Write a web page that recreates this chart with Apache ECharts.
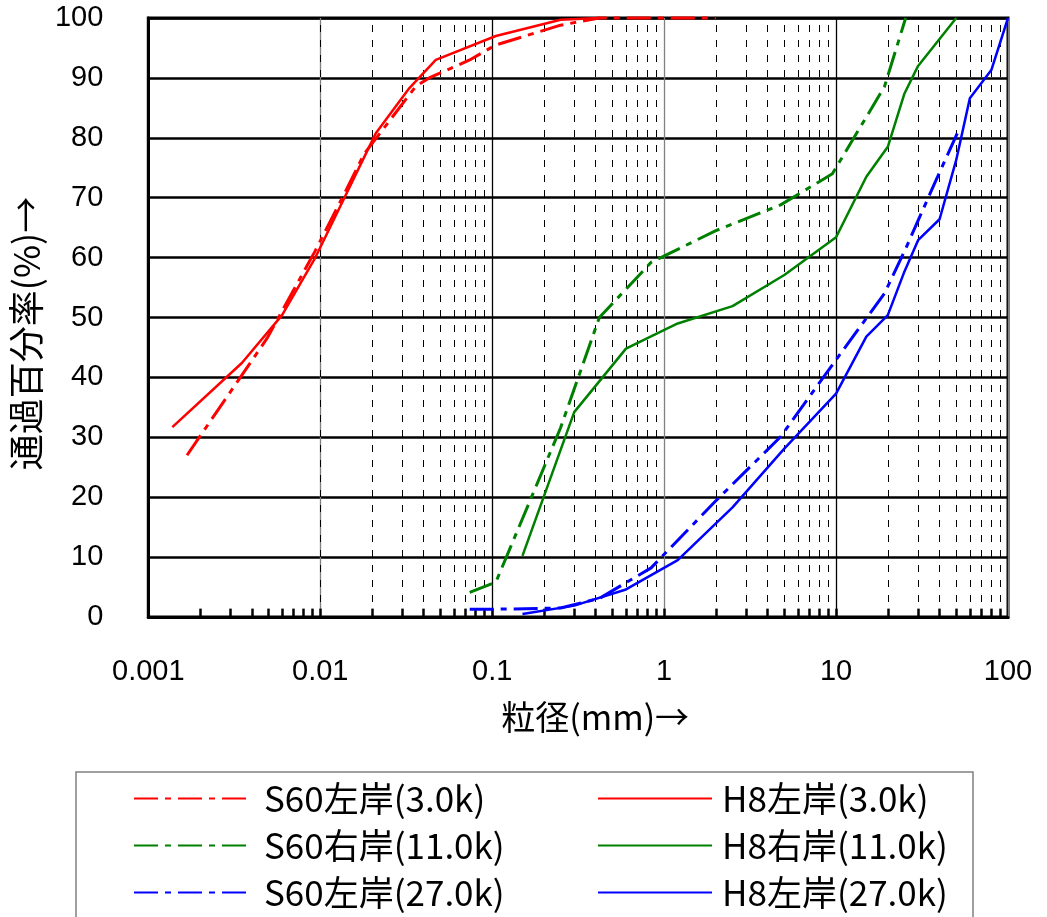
<!DOCTYPE html>
<html><head><meta charset="utf-8">
<script src="https://cdn.jsdelivr.net/npm/echarts@6/dist/echarts.min.js"></script>
<style>html,body{margin:0;padding:0;background:#fff}#c{width:1047px;height:917px}</style>
</head><body><div id="c"></div>
<script>
// ---- data (grain size mm, passing %) ----
const s60L3x = [0.00168, 0.0049, 0.0093, 0.0135, 0.018, 0.036, 0.043, 0.074, 0.105, 0.25, 0.42, 0.84, 2.0];
const s60L3y = [27.0, 46.5, 61.0, 70.1, 77.3, 88.6, 90.0, 93.0, 95.5, 98.8, 100, 100, 100];
const h8L3x = [0.00138, 0.0035, 0.006, 0.0094, 0.021, 0.033, 0.047, 0.105, 0.25, 0.42];
const h8L3y = [31.7, 42.4, 50.4, 60.1, 80.7, 88.3, 93.0, 97.0, 99.7, 100];
const s60R11x = [0.074, 0.105, 0.25, 0.42, 0.84, 2.0, 4.76, 9.52, 19.1, 25.4];
const s60R11y = [4.1, 5.8, 31.6, 50.0, 59.2, 64.5, 68.8, 74.0, 88.5, 100];
const h8R11x = [0.15, 0.3, 0.6, 1.2, 2.5, 5, 10, 15, 20, 25, 30, 50];
const h8R11y = [10.2, 34.2, 44.8, 49.0, 51.9, 57.1, 63.4, 73.5, 78.5, 87.4, 92.0, 100];
const s60L27x = [0.074, 0.105, 0.25, 0.42, 0.84, 2.0, 4.76, 9.52, 19.1, 25.4, 38.1, 50.8];
const s60L27y = [1.3, 1.3, 1.5, 3.1, 8.2, 19.4, 30.1, 42.1, 54.0, 61.5, 72.9, 80.8];
const h8L27x = [0.15, 0.3, 0.6, 1.2, 2.5, 5, 10, 15, 20, 25, 30, 40, 50, 60, 80, 100];
const h8L27y = [0.5, 1.9, 4.6, 9.5, 18.3, 28.1, 37.3, 46.8, 50.4, 57.7, 62.9, 66.4, 76.3, 86.6, 91.3, 100];

const seriesNames = ['S60左岸(3.0k)', 'H8左岸(3.0k)', 'S60右岸(11.0k)', 'H8右岸(11.0k)', 'S60左岸(27.0k)', 'H8左岸(27.0k)'];
const xTickLabels = ['0.001', '0.01', '0.1', '1', '10', '100'];
const xDecades = [0.001, 0.01, 0.1, 1, 10, 100];
const yMin = 0, yMax = 100, yStep = 10;

// minor grid values (2..9 within each decade)
const minorVals = [];
for (let k = 0; k < xDecades.length - 1; k++) {
  for (let m = 2; m <= 9; m++) minorVals.push(parseFloat((m * xDecades[k]).toPrecision(3)));
}
const tickVals = minorVals.concat(xDecades.slice(1, -1));

const pair = (xs, ys) => xs.map((x, i) => [x, ys[i]]);
const DASHDOT = [24, 7, 6, 7];
const FONT_CJK = '"Noto Sans CJK JP", "Noto Sans", sans-serif';
const FONT_NUM = '"Liberation Sans", Arial, sans-serif';

function mk(name, xs, ys, color, dashed) {
  return {
    name: name, type: 'line', data: pair(xs, ys), symbol: 'none', z: 5,
    clip: false, animation: false,
    lineStyle: { color: color, width: dashed ? 3 : 2.5, type: dashed ? DASHDOT : 'solid' },
    itemStyle: { color: color, opacity: 0 }
  };
}

const legendCommon = {
  orient: 'vertical', top: 781, itemWidth: 114, itemHeight: 14, itemGap: 12, padding: 0,
  itemStyle: { opacity: 0, borderWidth: 0 }
};

const chart = echarts.init(document.getElementById('c'), null, { renderer: 'canvas' });
const option = {
  animation: false,
  backgroundColor: '#fff',
  grid: { left: 145, right: 39, top: 18, bottom: 300, show: true, borderColor: '#000', borderWidth: 3, backgroundColor: 'transparent' },
  xAxis: {
    type: 'log', logBase: 10, min: 0.001, max: 100,
    name: '粒径(mm)→', nameLocation: 'middle', nameGap: 83,
    nameTextStyle: { fontFamily: FONT_CJK, fontSize: 34, color: '#000', padding: [0, 0, 0, 34] },
    axisLine: { show: true, lineStyle: { color: '#000', width: 3 } },
    axisTick: { show: false },
    axisLabel: { margin: 40, fontFamily: FONT_NUM, fontSize: 29, color: '#000',
      formatter: function (v) { const i = xDecades.findIndex(d => Math.abs(Math.log10(d) - Math.log10(v)) < 1e-6); return i >= 0 ? xTickLabels[i] : ''; } },
    splitLine: { show: true, lineStyle: { color: ['#000', '#808080'], width: 1.3 } }
  },
  yAxis: {
    type: 'value', min: yMin, max: yMax, interval: yStep,
    name: '通過百分率(%)→', nameLocation: 'middle', nameGap: 93, nameRotate: 90,
    nameTextStyle: { fontFamily: FONT_CJK, fontSize: 36, color: '#000', padding: [0, 32, 0, 0] },
    axisLine: { show: true, lineStyle: { color: '#000', width: 3 } },
    axisTick: { show: false },
    axisLabel: { margin: 45, fontFamily: FONT_NUM, fontSize: 29, color: '#000' },
    splitLine: { show: true, lineStyle: { color: '#000', width: 2.5 } }
  },
  legend: [
    Object.assign({}, legendCommon, { data: [seriesNames[0], seriesNames[2], seriesNames[4]], left: 133,
      textStyle: { fontFamily: FONT_CJK, fontSize: 35, color: '#000', padding: [0, 0, 0, 11] } }),
    Object.assign({}, legendCommon, { data: [seriesNames[1], seriesNames[3], seriesNames[5]], left: 597,
      textStyle: { fontFamily: FONT_CJK, fontSize: 35, color: '#000', padding: [0, 0, 0, 5] } })
  ],
  graphic: [
    { type: 'rect', shape: { x: 76, y: 772, width: 897, height: 170 }, style: { fill: 'none', stroke: '#808080', lineWidth: 1.5 }, z: -1 }
  ],
  series: [
    {
      name: '_grid', type: 'line', data: [], z: 1, silent: true, animation: false,
      markLine: {
        silent: true, symbol: 'none', animation: false, label: { show: false },
        lineStyle: { color: '#000', width: 1, type: [7, 8] },
        data: minorVals.map(v => ({ xAxis: v }))
      }
    },
    {
      name: '_ticks', type: 'line', data: [], z: 2, silent: true, animation: false,
      markLine: {
        silent: true, symbol: 'none', animation: false, label: { show: false },
        lineStyle: { color: '#000', width: 2.5, type: 'solid' },
        data: tickVals.map(v => [{ coord: [v, yMin] }, { coord: [v, yMin + 1.4] }])
      }
    },
    mk(seriesNames[0], s60L3x, s60L3y, '#FF0000', true),
    mk(seriesNames[1], h8L3x, h8L3y, '#FF0000', false),
    mk(seriesNames[2], s60R11x, s60R11y, '#008000', true),
    mk(seriesNames[3], h8R11x, h8R11y, '#008000', false),
    mk(seriesNames[4], s60L27x, s60L27y, '#0000FF', true),
    mk(seriesNames[5], h8L27x, h8L27y, '#0000FF', false)
  ]
};
chart.setOption(option);
</script></body></html>
